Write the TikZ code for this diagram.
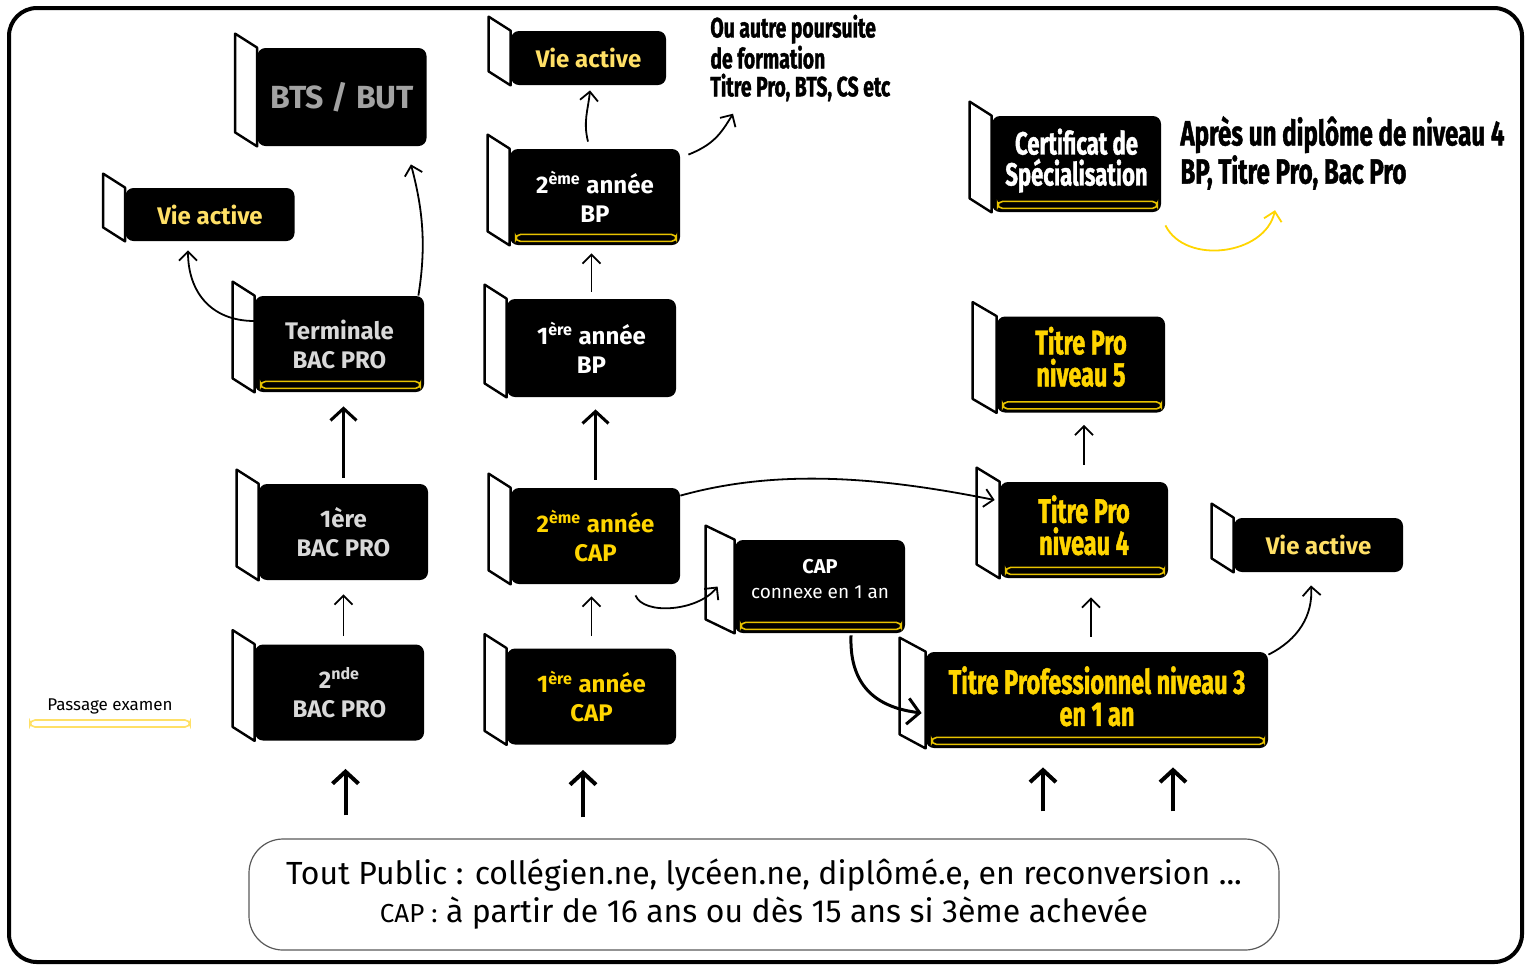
\documentclass[tikz,border=0pt]{standalone}
\usepackage{fontspec}
\setmainfont{Fira Sans}
\newfontfamily\etroit{Fira Sans}[FakeStretch=0.69, FakeBold=1.2]
\usetikzlibrary{arrows.meta,calc,positioning}

\definecolor{jaunecap}{HTML}{FFD500}
\definecolor{jaunevie}{HTML}{FFE066}
\definecolor{grisbac}{HTML}{D9D9D9}
\definecolor{grisbts}{HTML}{A3A3A3}
\definecolor{jauneexam}{HTML}{E8C300}

\tikzset{
    diplome/.style={fill=black, rounded corners=4pt, inner sep=0pt, align=center, text=white, font=\bfseries\fontsize{12}{14.5}\selectfont, minimum width=84.5pt, minimum height=48pt},
    titre/.style={diplome, text=jaunecap, font=\etroit\bfseries\fontsize{17}{16}\selectfont},
    volet/.style={draw=black, fill=white, line width=1.2pt, line join=round},
    examen/.style={draw=jauneexam, line width=0.8pt, rounded corners=2.5pt},
    suite/.style={-{Straight Barb[length=4.5pt,width=9pt]}, line width=0.9pt},
    suite forte/.style={suite, line width=1.5pt, -{Straight Barb[length=6pt,width=13pt]}},
    entree/.style={suite, line width=2pt, -{Straight Barb[length=6pt,width=13pt]}}
}

\newcommand{\volet}[2][22]{\draw[volet] (#2.north west) -- ++(-#1,-14) -- ($(#2.south west)+(-#1,-14)$) -- (#2.south west) -- cycle;}
\newcommand{\barre}[1]{\draw[examen] ($(#1.south west)+(6,-4)$) rectangle ($(#1.south east)+(-4,-11)$);}

\begin{document}
\begin{tikzpicture}[x=0.5pt, y=-0.5pt]
        \useasboundingbox (0,0) rectangle (1534,965);
        \draw[line width=2pt, rounded corners=14pt] (9,8) rectangle (1522,962);

        \node[diplome, minimum height=49pt, text=grisbts, font=\bfseries\fontsize{16}{19}\selectfont] (bts) at (342,97) {BTS / BUT};
        \node[diplome, minimum height=26.5pt, text=jaunevie] (vieA) at (210,214.5) {Vie active};
        \node[diplome, text=grisbac] (term) at (339.5,344) {Terminale\\BAC PRO};
        \node[diplome, text=grisbac] (prem) at (343.5,532) {1ère\\BAC PRO};
        \node[diplome, text=grisbac] (sec) at (339.5,692.5) {2\textsuperscript{nde}\\BAC PRO};

        \node[diplome, minimum width=77.5pt, minimum height=27pt, text=jaunevie] (vieB) at (588.5,58) {Vie active};
        \node[diplome, minimum width=85pt] (bp2) at (595,197) {2\textsuperscript{ème} année\\BP};
        \node[diplome, minimum height=49pt] (bp1) at (591.5,348) {1\textsuperscript{ère} année\\BP};
        \node[diplome, text=jaunecap] (cap2) at (595.5,536) {2\textsuperscript{ème} année\\CAP};
        \node[diplome, text=jaunecap] (cap1) at (591.5,696.5) {1\textsuperscript{ère} année\\CAP};

        \node[diplome, minimum width=85pt, minimum height=46.5pt, text depth=8pt, font=\fontsize{9.5}{12.5}\selectfont] (connexe) at (820,586.5) {{\bfseries\fontsize{10}{12.5}\selectfont CAP}\\connexe en 1 an};
        \node[titre, text=white, font=\etroit\bfseries\fontsize{16}{15.5}\selectfont, text depth=7pt] (cs) at (1076.5,164) {Certificat de\\Spécialisation};
        \node[titre, minimum width=84pt, text depth=8pt] (tp5) at (1081,364.5) {Titre Pro\\niveau 5};
        \node[titre, minimum width=84pt, text depth=5pt] (tp4) at (1084,530) {Titre Pro\\niveau 4};
        \node[diplome, minimum height=27pt, text=jaunevie] (vieC) at (1318.5,545) {Vie active};
        \node[titre, minimum width=171pt, text depth=4pt] (tp3) at (1097,700) {Titre Professionnel niveau 3\\en 1 an};

        \volet{bts} \volet{vieA} \volet{term} \volet{prem} \volet{sec}
        \volet{vieB} \volet{bp2} \volet{bp1} \volet{cap2} \volet{cap1}
        \volet[29]{connexe} \volet{cs} \volet[24]{tp5} \volet[23]{tp4} \volet{vieC} \volet[26]{tp3}

        \barre{term} \barre{bp2} \barre{connexe} \barre{cs} \barre{tp5} \barre{tp4} \barre{tp3}

        \node[anchor=west, align=left, inner sep=0pt, font=\etroit\bfseries\fontsize{14}{14}\selectfont] (autre) at (710,58) {Ou autre poursuite\\de formation\\Titre Pro, BTS, CS etc};
        \node[anchor=west, align=left, inner sep=0pt, font=\etroit\bfseries\fontsize{17.5}{18}\selectfont] (apres) at (1180,153) {Après un diplôme de niveau 4\\BP, Titre Pro, Bac Pro};
        \node[font=\fontsize{8.5}{10}\selectfont] (passage) at (110,706) {Passage examen};
        \draw[examen, draw=jaunevie] (30,720) rectangle (190,727);

        \node[draw=gray!70!black, line width=0.6pt, rounded corners=17pt, minimum width=515pt, minimum height=55.5pt, align=center, font=\fontsize{16}{19}\selectfont] (public) at (764,894.5) {Tout Public : collégien.ne, lycéen.ne, diplômé.e, en reconversion ...\\{\fontsize{13}{19}\selectfont CAP :} à partir de 16 ans ou dès 15 ans si 3ème achevée};

        \draw[suite, shorten <=4pt, shorten >=7pt] (prem.south |- sec.north) -- (prem.south);
        \draw[suite forte, shorten <=3pt, shorten >=7pt] (prem.north) -- (prem.north |- term.south);
        \draw[suite] ($(term.north east)+(-6,0)$) .. controls +(8,-50) and +(12,45) .. ($(bts.south east)+(-16,18)$);
        \draw[suite] ($(term.west)+(0,-23)$) .. controls +(-45,0) and +(0,40) .. ($(vieA.south)+(-22,9)$);

        \draw[suite, shorten <=6pt, shorten >=6pt] (cap1.north) -- (cap1.north |- cap2.south);
        \draw[suite forte, shorten <=4pt, shorten >=6pt] (cap2.north) -- (cap2.north |- bp1.south);
        \draw[suite, shorten <=3.5pt, shorten >=4pt] (bp1.north) -- (bp1.north |- bp2.south);
        \draw[suite] ($(bp2.north)+(-7,-7)$) .. controls +(-5,-20) and +(-2,20) .. ($(vieB.south)+(1.5,5)$);
        \draw[suite] ($(bp2.north east)+(8,6)$) .. controls +(25,-10) and +(-12,20) .. ($(autre.south west)+(23,12)$);

        \draw[suite] ($(cap2.north east)+(0,8)$) .. controls +(100,-28) and +(-110,-22) .. ($(tp4.west)+(-5,-30)$);
        \draw[suite] ($(cap2.south)+(40,11)$) .. controls +(8,20) and +(-20,25) .. ($(connexe.west)+(-17,0)$);
        \draw[suite forte] ($(connexe.south)+(31,2)$) .. controls +(-2,55) and +(-40,-5) .. ($(tp3.west)+(-4,13)$);
        \draw[suite, shorten <=7.5pt, shorten >=9.5pt] ($(tp3.north)+(-6,0)$) -- ($(tp3.north |- tp4.south)+(-6,0)$);
        \draw[suite, shorten <=8.5pt, shorten >=6pt] (tp4.north) -- (tp4.north |- tp5.south);
        \draw[suite] ($(tp3.north east)+(0,3)$) .. controls +(30,-15) and +(2,30) .. ($(vieC.south)+(-7.5,13)$);
        \draw[suite, draw=jaunecap] ($(cs.south east)+(4,13)$) .. controls +(20,40) and +(-10,45) .. ($(apres.south west)+(95,20)$);

        \draw[entree, shorten <=11.5pt, shorten >=14pt] ($(sec.south |- public.north)+(6,0)$) -- ($(sec.south)+(6,0)$);
        \draw[entree, shorten <=10.5pt, shorten >=12.5pt] ($(cap1.south |- public.north)+(-8.5,0)$) -- ($(cap1.south)+(-8.5,0)$);
        \draw[entree, shorten <=13.5pt, shorten >=9.5pt] ($(tp3.south |- public.north)+(-54,0)$) -- ($(tp3.south)+(-54,0)$);
        \draw[entree, shorten <=13.5pt, shorten >=9.5pt] ($(tp3.south |- public.north)+(76,0)$) -- ($(tp3.south)+(76,0)$);
\end{tikzpicture}
\end{document}
